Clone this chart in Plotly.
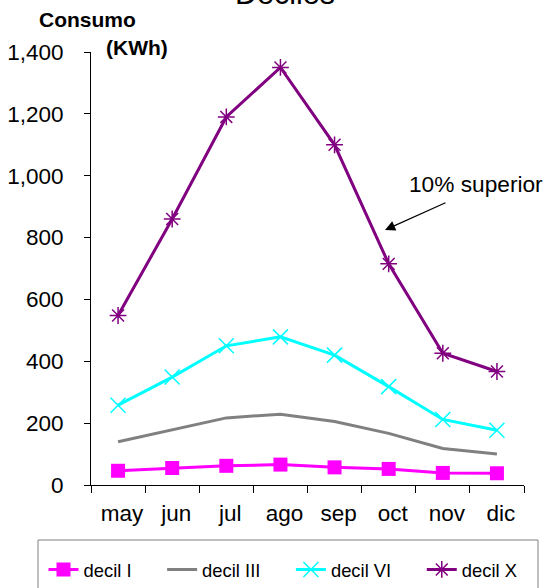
import plotly.graph_objects as go

# Monthly household consumption (kWh) by decile
months = ["may", "jun", "jul", "ago", "sep", "oct", "nov", "dic"]
decil_i = [46, 55, 62, 66, 57, 52, 39, 38]
decil_iii = [140, 179, 217, 229, 205, 167, 118, 100]
decil_vi = [258, 349, 450, 479, 420, 318, 212, 177]
decil_x = [548, 860, 1190, 1350, 1100, 715, 426, 367]
y_ticks = [0, 200, 400, 600, 800, 1000, 1200, 1400]

FONT = "Arial, Liberation Sans, sans-serif"
NB = "\u00a0"
W, H = 551, 588
ML, MR, MT, MB = 91, 27, 52, 103
PW, PH = W - ML - MR, H - MT - MB


def px_x(px):
    return (px - ML) / PW


def px_y(py):
    return (H - MB - py) / PH


fig = go.Figure()
fig.add_trace(go.Scatter(
    x=months, y=decil_i, name="decil I" + NB * 5, mode="lines+markers",
    line=dict(color="#FF00FF", width=3),
    marker=dict(symbol="square", size=14, color="#FF00FF"),
))
fig.add_trace(go.Scatter(
    x=months, y=decil_iii, name="decil III" + NB * 5, mode="lines",
    line=dict(color="#808080", width=3),
))
fig.add_trace(go.Scatter(
    x=months, y=decil_vi, name="decil VI" + NB * 5, mode="lines+markers",
    line=dict(color="#00FFFF", width=3),
    marker=dict(symbol="x-thin-open", size=15, color="#00FFFF",
                line=dict(color="#00FFFF", width=1.5)),
))
fig.add_trace(go.Scatter(
    x=months, y=decil_x, name="decil X", mode="lines+markers",
    line=dict(color="#800080", width=3),
    marker=dict(symbol="asterisk-open", size=14, color="#800080",
                line=dict(color="#800080", width=1.5)),
))

annotations = [
    dict(text="Deciles", x=px_x(285), y=px_y(-6.5), xref="paper", yref="paper",
         showarrow=False, font=dict(family=FONT, size=30.5, color="black"),
         xanchor="center", yanchor="middle"),
    dict(text="<b>Consumo</b>", x=px_x(87), y=px_y(20), xref="paper", yref="paper",
         showarrow=False, font=dict(family=FONT, size=21, color="black"),
         xanchor="center", yanchor="middle"),
    dict(text="<b>(KWh)</b>", x=px_x(136.5), y=px_y(48), xref="paper", yref="paper",
         showarrow=False, font=dict(family=FONT, size=21, color="black"),
         xanchor="center", yanchor="middle"),
    dict(text="10% superior", x=px_x(476), y=px_y(184), xref="paper", yref="paper",
         showarrow=False, font=dict(family=FONT, size=22.7, color="black"),
         xanchor="center", yanchor="middle"),
    dict(text="", x=px_x(385), y=px_y(230), xref="paper", yref="paper",
         showarrow=True, ax=62, ay=-28, axref="pixel", ayref="pixel",
         arrowhead=2, arrowsize=1.7, arrowwidth=1.2, arrowcolor="black"),
]

fig.update_layout(
    width=W, height=H,
    margin=dict(l=ML, r=MR, t=MT, b=MB, autoexpand=False),
    plot_bgcolor="white", paper_bgcolor="white",
    font=dict(family=FONT, size=22.5, color="black"),
    showlegend=True,
    legend=dict(
        orientation="h", x=px_x(43.5), y=px_y(551), xanchor="left", yanchor="top",
        font=dict(family=FONT, size=18.4, color="black"),
        bgcolor="rgba(0,0,0,0)", borderwidth=0,
    ),
    annotations=annotations,
    shapes=[dict(type="rect", xref="paper", yref="paper",
                 x0=px_x(38), x1=px_x(538), y0=px_y(600), y1=px_y(540),
                 line=dict(color="#808080", width=1), fillcolor="rgba(0,0,0,0)")],
)

fig.update_xaxes(
    type="category", range=[-0.5, 7.5], tickson="boundaries",
    showline=True, linecolor="black", linewidth=1,
    ticks="outside", ticklen=7, tickcolor="black",
    showgrid=False, zeroline=False, ticklabelstandoff=8, ticklabelshift=4,
    tickfont=dict(family=FONT, size=22.5, color="black"),
)
fig.update_yaxes(
    range=[0, 1400], tickvals=y_ticks, tickformat=",d",
    showline=True, linecolor="black", linewidth=1,
    ticks="outside", ticklen=6, tickcolor="black",
    showgrid=False, zeroline=False, ticklabelstandoff=16,
    tickfont=dict(family=FONT, size=22.5, color="black"),
)

fig.write_html("out.html")
